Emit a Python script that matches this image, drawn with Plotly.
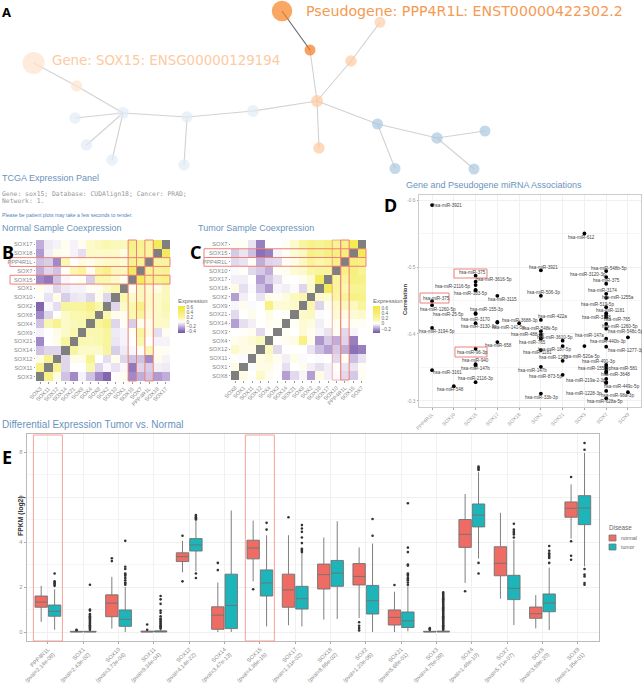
import plotly.graph_objects as go

W, H = 642, 684
FONT = "Liberation Sans"

# ---------- Panel A data ----------
node_x = [282, 310, 380, 351, 317, 319, 377.5, 437, 485, 395, 474, 253, 187, 184, 123, 75, 86.5, 112, 76.6, 33.6]
node_y = [11, 50, 22.3, 61, 101, 148, 124, 138, 131, 168.5, 169, 111, 117, 165, 113, 118, 145, 160, 86, 63]
node_size = [20.5, 11, 11, 11.5, 12, 11.5, 11, 11.5, 11, 11, 11, 12, 11.5, 11.5, 12, 11.5, 11.5, 11.5, 11.5, 22]
node_color = ["#f68121", "#f47b20", "#fdcfa8", "#fdc9a0", "#fdc9a0", "#fdc9a0", "#a9c8e0", "#a9c8e0", "#a9c8e0",
              "#a9c8e0", "#a9c8e0", "#e2ebf5", "#e2ebf5", "#e2ebf5", "#e2ebf5", "#e2ebf5", "#e2ebf5", "#e2ebf5",
              "#fde6cf", "#fde3cc"]
edges = [(19, 18), (18, 14), (14, 15), (14, 16), (14, 17), (14, 12), (12, 13), (12, 11), (11, 4), (4, 1),
         (4, 3), (3, 2), (4, 5), (4, 6), (6, 7), (6, 9), (7, 8), (7, 10)]
dark_edge = (1, 0)

# ---------- Panel B data ----------
b_cats = ["SOX3", "SOX11", "SOX12", "SOX14", "SOX21", "SOX9", "SOX4", "SOX8", "SOX2", "SOX10", "SOX1", "SOX15",
          "SOX7", "PPP4R1L", "SOX18", "SOX17"]
N = None
b_rows_bottom_up = [
    [N, .3, .05, -.15, -.3, -.03, -.15, -.3, -.4, .01, .03, -.3, -.2, -.15, -.25, -.2],
    [.3, N, .25, -.1, 0, 0, .15, -.1, -.02, -.07, -.02, -.35, -.1, -.12, -.04, -.05],
    [.05, .25, N, -.1, .04, .05, .25, 0, -.08, .04, -.1, -.15, -.15, -.3, .04, -.03],
    [-.15, -.1, -.1, N, .2, .1, .1, .1, .2, -.12, -.05, -.02, .02, .15, .02, .03],
    [-.3, 0, .04, .2, N, .15, .12, .15, .2, -.06, -.03, 0, .15, 0, -.03, -.03],
    [-.03, 0, .05, .1, .15, N, .15, .15, .2, -.05, -.03, .02, .2, .06, -.08, .03],
    [-.15, .15, .25, .1, .12, .15, N, .2, .3, -.1, .02, -.12, .03, .04, .1, .1],
    [-.3, -.1, 0, .1, .15, .15, .2, N, .15, .04, .03, .15, .2, .08, .1, .12],
    [-.4, -.02, -.08, .2, .2, .2, .3, .15, N, -.1, .1, .15, .3, .1, .1, .15],
    [.01, -.07, .04, -.12, -.06, -.05, -.1, .04, -.1, N, .15, .1, .12, .1, .1, .12],
    [.03, -.02, -.1, -.05, -.03, -.03, .02, .03, .1, .15, N, .03, .12, .08, .05, .12],
    [-.3, -.35, -.15, -.02, 0, .02, -.12, .15, .15, .1, .03, N, .5, .25, .25, .3],
    [-.2, -.1, -.15, .02, .15, .2, .03, .2, .3, .12, .12, .5, N, .25, .22, .25],
    [-.15, -.12, -.3, .15, 0, .06, .04, .08, .1, .1, .08, .25, .25, N, .2, .2],
    [-.25, -.04, .04, .02, -.03, -.08, .1, .1, .1, .1, .05, .25, .22, .2, N, .5],
    [-.2, -.05, -.03, .03, -.03, .03, .1, .12, .15, .12, .12, .3, .25, .2, .5, N],
]

# ---------- Panel C data ----------
c_cats = ["SOX8", "SOX1", "SOX11", "SOX12", "SOX4", "SOX3", "SOX14", "SOX21", "SOX9", "SOX2", "SOX18", "SOX17",
          "SOX10", "PPP4R1L", "SOX15", "SOX7"]
c_rows_bottom_up = [
    [N, .05, .01, .1, .03, 0, -.18, -.07, -.02, -.18, .05, -.03, -.01, -.07, -.1, .02],
    [.05, N, -.01, .05, .05, .01, -.06, 0, .03, -.03, -.06, -.03, .01, -.05, -.05, .02],
    [.01, -.01, N, .05, .08, .03, -.03, .04, -.01, 0, -.01, 0, -.07, .02, -.12, -.05],
    [.1, .05, .05, N, .12, -.07, 0, 0, 0, -.05, -.12, -.18, -.1, -.15, -.28, -.25],
    [.03, .05, .08, .12, N, .01, .03, .05, .3, .04, -.2, -.1, -.15, -.08, -.25, 0],
    [0, .01, .03, -.07, .01, N, .02, 0, .08, .03, -.02, -.05, .02, -.07, -.02, 0],
    [-.18, -.06, -.03, 0, .03, .02, N, .02, .08, .06, -.03, .01, .03, .02, .02, .02],
    [-.07, 0, .04, 0, .05, 0, .02, N, .1, .12, -.01, 0, .08, .05, .08, .1],
    [-.02, .03, -.01, 0, .3, .08, .08, .1, N, .15, -.08, .03, .1, .12, .12, .2],
    [-.18, -.03, 0, -.05, .04, .03, .06, .12, .15, N, .1, .08, .18, .22, .3, .28],
    [.05, -.06, -.01, -.12, -.2, -.02, -.03, -.01, -.08, .1, N, .5, .2, .15, .25, .25],
    [-.03, -.03, 0, -.18, -.1, -.05, .01, 0, .03, .08, .5, N, .2, .2, .32, .3],
    [-.01, .01, -.07, -.1, -.15, .02, .03, .08, .1, .18, .2, .2, N, .3, .33, .25],
    [-.07, -.05, .02, -.15, -.08, -.07, .02, .05, .12, .22, .15, .2, .3, N, .35, .3],
    [-.1, -.05, -.12, -.28, -.25, -.02, .02, .08, .12, .3, .25, .32, .33, .35, N, .55],
    [.02, .02, -.05, -.25, 0, 0, .02, .1, .2, .28, .25, .3, .25, .3, .55, N],
]

# ---------- Panel D data ----------
d_cats = ["PPP4R1L", "SOX10", "SOX15", "SOX17", "SOX18", "SOX2", "SOX21", "SOX3", "SOX7", "SOX9"]
mir_cat = [0, 0, 0, 0, 0, 1,
           2, 2, 2, 2, 2, 2, 2, 2, 2, 2, 2, 2,
           3, 3, 3, 3, 4,
           5, 5, 5, 5, 5, 5, 5, 5, 5, 5,
           6, 6, 6, 6, 7, 7,
           8, 8, 8, 8, 8, 8, 8, 8, 8, 8, 8, 8, 8, 8, 8, 8, 8, 8, 8, 8, 8, 8, 8,
           9, 9]
mir_corr = [-.5925, -.449, -.443, -.409, -.346, -.322,
            -.487, -.478, -.473, -.466, -.465, -.431, -.43, -.416, -.378, -.355, -.353, -.328,
            -.457, -.418, -.417, -.388, -.416,
            -.495, -.457, -.421, -.404, -.399, -.394, -.393, -.376, -.351, -.311,
            -.39, -.382, -.36, -.339, -.55, -.382,
            -.494, -.485, -.475, -.46, -.454, -.44, -.431, -.428, -.425, -.415, -.408, -.393, -.381, -.354, -.351,
            -.348, -.344, -.342, -.333, -.328, -.327, -.315, -.304,
            -.395, -.313]
mir_name = ["3921", "375", "1260-5p", "3194-5p", "3161", "548",
            "375", "3616-5p", "", "2116-5p", "183-5p", "155-3p", "25-5p", "3130-3p", "96-3p", "940", "147b", "2116-3p",
            "3115", "3170", "141-5p", "658", "3688-3p",
            "3921", "506-3p", "422a", "548k-5p", "488-3p", "3610-5p", "765", "1181", "147b", "33b-3p",
            "147a", "187-5p", "1293", "873-5p", "612", "520a-5p",
            "548b-5p", "3120-3p", "375", "3174", "1255a", "519-5p", "1181", "3188", "765", "1260-5p", "548c-5p",
            "440b-3p", "1277-3p", "491-3p", "155-3p", "581", "", "3648", "219a-2-3p", "", "449c-5p", "1228-3p", "628a-5p",
            "", "98a-3p"]
label_dx = [15, 4, 6, 5, 15, -3,
            -3, 18, 0, -23, -5, 11, -27, 3, -3, 0, 0, 0,
            5, -22, 11, 1, 1,
            3, 3, 12, -1, -13, 14, -8, -3, -8, 1,
            27, -8, -9, -17, -3, -2,
            3, -18, 0, -4, 12, -9, 4, -10, 11, 14, 20, 2, 20, -8, -12, 18, 0, 9, -20, 0, 16, -22, -1,
            0, -10]
label_dy = [0, -3, 4, 3.5, 2, 3,
            -3, -2, 0, -3, 3.5, -4, .7, 3.5, 3.5, -4, 3.5, -3.5,
            3.5, -2, 4.5, 3.5, -3,
            -3, -3, -3, -3, 0, -1, 3.5, 2, 3.5, 3.5,
            -5, 3.5, -3, 1.5, 3.5, 10,
            -3, -3, -3, -3, 0, -3, -2.5, 2, 2, 3, 3, 3, 3.5, -3, 1.5, 0, 0, 2, 2, 0, 3.5, 3, 3,
            0, 3]

# ---------- Panel E data ----------
e_genes = ["PPP4R1L", "SOX1", "SOX10", "SOX11", "SOX12", "SOX14", "SOX15", "SOX17", "SOX18", "SOX2", "SOX21", "SOX3",
           "SOX4", "SOX7", "SOX8", "SOX9"]
e_pvals = ["2.14e-08", "2.43e-02", "3.73e-04", "9.34e-04", "4.14e-22", "3.47e-13", "4.36e-15", "1.31e-02", "8.86e-02",
           "1.20e-06", "5.68e-01", "4.75e-09", "1.48e-10", "5.71e-07", "3.59e-20", "1.35e-01"]
n_low = [.45, 0, .15, 0, 2.65, 0, 2.25, .3, .55, .62, 0, 0, 2.18, 1.48, .16, 4.15]
n_q1 = [1.1, 0, .68, 0, 3.13, .12, 3.25, 1.1, 1.91, 2.09, .31, 0, 3.76, 2.5, .61, 5.1]
n_med = [1.33, .01, 1.28, .01, 3.35, .75, 3.73, 1.87, 2.55, 2.47, .65, .01, 4.34, 3.05, .81, 5.5]
n_q3 = [1.6, .03, 1.65, .04, 3.52, 1.12, 4.08, 2.57, 3.02, 3.04, .98, .03, 5.0, 3.79, 1.11, 5.78]
n_up = [2.05, .05, 2.45, .07, 4.05, 2.2, 4.95, 4.3, 4.2, 3.76, 1.79, .06, 6.13, 5.3, 1.64, 6.56]
t_low = [.1, 0, 0, 0, 2.7, 0, .25, .25, .58, 0, .03, 0, 3.26, .31, .09, 2.92]
t_q1 = [.7, 0, .25, 0, 3.6, .15, 1.6, 1.02, 2.03, .8, .2, 0, 4.67, 1.44, .9, 4.77]
t_med = [.92, .01, .56, .02, 3.87, 1.18, 2.18, 1.48, 2.62, 1.39, .5, .02, 5.2, 1.94, 1.29, 5.51]
t_q3 = [1.2, .03, .98, .05, 4.15, 2.57, 2.76, 2.03, 3.18, 2.07, .89, .04, 5.69, 2.52, 1.69, 6.06]
t_up = [1.9, .07, 2.0, .1, 4.95, 5.4, 4.3, 3.5, 4.92, 3.93, 2.03, .08, 7.1, 4.09, 2.86, 7.96]
n_out = [[], [.08, .1], [3.15, 3.28], [.1, .33], [2.25, 4.28], [2.75, 3.07], [1.9], [5.1], [], [.07, .18, .28, .43],
         [2.09], [.1, .13, .17], [1.81], [], [], [3.21, 3.39, 4.03, 6.89]]
t_out = [[2.05, 2.1, 2.15, 2.2, 2.25, 2.6],
         [.1, .15, .2, .25, .3, .35, .4, .45, .5, .55, .6, .65, .7, .75, .8, .95, 1.0, 2.1],
         [2.1, 2.15, 2.2, 2.3, 2.4, 2.5, 2.55, 2.6, 2.8, 2.9, 4.05],
         [.15, .2, .25, .3, .35, .4, .45, .5, .55, .6, .7, .85, .95, 1.25, 1.45, 1.6],
         [2.4, 2.6, 5.0, 5.05, 5.1, 5.15, 5.2], [], [4.55, 4.85],
         [3.55, 3.6, 3.65, 3.7, 3.95, 4.2, 4.45, 4.6, 4.75], [], [4.28, 5.02],
         [2.1, 2.2, 2.3, 2.35, 2.4, 2.5, 2.55, 2.6, 2.95, 3.0, 3.55, 3.75, 5.72],
         [.1, .15, .2, .25, .3, .35, .4, .45, .5, .55, .6, .65, .7, .75, .8, .85, .9, .95, 1.0, 1.05, 1.1, 1.15, 1.2,
          1.25, 1.3, 1.35, 1.4, 1.45, 1.5, 1.55, 1.6, 1.65, 1.7, 1.76],
         [3.07, 2.6, 7.2, 7.25, 7.3, 7.35], [4.2, 4.33, 4.4, 4.47, 4.55, 4.81],
         [3.07, 3.29, 3.36, 3.43, 3.5, 3.61, 3.82], [2.1, 2.18, 2.47, 2.55, 2.8, 8.1, 8.4]]
legend_names = ["normal", "tumor"]
legend_cols = ["#ee6c63", "#1db5ba"]

# ---------- Layout helpers ----------
BLUE = "#6a93bd"
RED = "#f08078"


def fx(p):
    return p / W


def fy(p):
    return 1 - p / H


def dx(a, b):
    return [a / W, b / W]


def dy(top, bottom):
    return [1 - bottom / H, 1 - top / H]


fig = go.Figure()
layout = dict(width=W, height=H, margin=dict(l=0, r=0, t=0, b=0, autoexpand=False), paper_bgcolor="white",
              plot_bgcolor="white", font=dict(family=FONT, color="#777"), showlegend=False)
annots, shapes = [], []


def text(x, y, s, size, color, family=FONT, bold=False):
    annots.append(dict(x=fx(x), y=fy(y), xref="paper", yref="paper", xanchor="left", yanchor="middle",
                       text=f"<b>{s}</b>" if bold else s, xshift=-1,
                       showarrow=False, font=dict(size=size, color=color, family=family)))


def rect(x0, y0, x1, y1, color=RED, width=1, opacity=1):
    shapes.append(dict(type="rect", xref="paper", yref="paper", x0=fx(x0), x1=fx(x1), y0=fy(y1), y1=fy(y0),
                       line=dict(color=color, width=width), opacity=opacity, layer="above"))


# ---------- Panel A ----------
layout["xaxis"] = dict(domain=dx(0, W), range=[0, W], visible=False, fixedrange=True)
layout["yaxis"] = dict(domain=dy(0, 215), range=[215, 0], visible=False, fixedrange=True)
ex, ey = [], []
for a, b in edges:
    ex += [node_x[a], node_x[b], None]
    ey += [node_y[a], node_y[b], None]
fig.add_trace(go.Scatter(x=ex, y=ey, mode="lines", line=dict(color="#d2d2d2", width=1.1), hoverinfo="skip",
                         xaxis="x", yaxis="y"))
fig.add_trace(go.Scatter(x=[node_x[dark_edge[0]], node_x[dark_edge[1]]], y=[node_y[dark_edge[0]], node_y[dark_edge[1]]],
                         mode="lines", line=dict(color="#666", width=1.1), xaxis="x", yaxis="y"))
fig.add_trace(go.Scatter(x=node_x, y=node_y, mode="markers",
                         marker=dict(size=node_size, color=node_color, line=dict(width=0)),
                         xaxis="x", yaxis="y"))
text(305, 11, "Pseudogene: PPP4R1L: ENST00000422302.2", 14.2, "#f59a52", "DejaVu Sans")
text(50.5, 61, "Gene: SOX15: ENSG00000129194", 13.4, "#fdcaa2", "DejaVu Sans")
text(1, 178, "TCGA Expression Panel", 9, BLUE)
text(404.5, 185, "Gene and Pseudogene miRNA Associations", 9, BLUE)
text(1, 194, "Gene: sox15; Database: CUDAlign18; Cancer: PRAD;", 6.4, "#999", "DejaVu Sans Mono")
text(1, 201, "Network: 1.", 6.4, "#999", "DejaVu Sans Mono")
text(1, 215, "Please be patient plots may take a few seconds to render.", 5.1, "#4a84bd")
text(1, 228, "Normal Sample Coexpression", 9, BLUE)
text(197, 228, "Tumor Sample Coexpression", 9, BLUE)
text(1, 424, "Differential Expression Tumor vs. Normal", 10, BLUE)
for x, y, s, size in [(1, 12, "A", 13), (1, 252, "B", 18), (189, 252, "C", 18), (383, 205, "D", 18), (1, 457, "E", 18)]:
    text(x, y, s, size, "black", "Noto Sans", True)


# ---------- Panels B, C ----------
def heat_panel(idx, cats, rows, left, right, top, bottom, zmin, zmax, cb_left, cb_top, cb_bottom, ticks):
    xn, yn = f"x{idx}", f"y{idx}"
    layout[f"xaxis{idx}"] = dict(domain=dx(left, right), anchor=yn, tickangle=-45, tickfont=dict(size=5.5, color="#888"),
                                 type="category", showgrid=False, zeroline=False, ticks="outside", ticklen=1.5,
                                 tickcolor="#999", tickwidth=.6, range=[-.5, 15.5], tickmode="array",
                                 tickvals=cats, categoryorder="array", categoryarray=cats)
    layout[f"yaxis{idx}"] = dict(domain=dy(top, bottom), anchor=xn, tickfont=dict(size=5.7, color="#888"), type="category",
                                 showgrid=False, zeroline=False, ticks="outside", ticklen=1.5, tickcolor="#999",
                                 tickwidth=.6, range=[-.5, 15.5], tickmode="array", tickvals=cats,
                                 categoryorder="array", categoryarray=cats)
    z0 = -zmin / (zmax - zmin)
    fig.add_trace(go.Heatmap(z=rows, x=cats, y=cats, xaxis=xn, yaxis=yn, zmin=zmin, zmax=zmax,
                             colorscale=[[0, "#6f52a3"], [z0 * .5, "#b6a1d3"], [z0, "#ffffff"],
                                         [z0 + (1 - z0) * .25, "#faf6a6"], [z0 + (1 - z0) * .55, "#f6ee78"], [1, "#f2e73c"]],
                             hoverongaps=False,
                             colorbar=dict(x=fx(cb_left), xanchor="left", xpad=0, ypad=0, y=fy(cb_bottom), yanchor="bottom",
                                           len=cb_bottom - cb_top, lenmode="pixels", thickness=6.5, thicknessmode="pixels",
                                           outlinewidth=0, ticks="", tickvals=ticks, tickfont=dict(size=4.8, color="#666"),
                                           title=dict(text="Expression", side="top", font=dict(size=6, color="#666")))))
    diag = [[1 if i == j else None for j in range(16)] for i in range(16)]
    fig.add_trace(go.Heatmap(z=diag, x=cats, y=cats, xaxis=xn, yaxis=yn, showscale=False, hoverongaps=False,
                             colorscale=[[0, "#7f7f7f"], [1, "#7f7f7f"]]))


heat_panel(2, b_cats, b_rows_bottom_up, 36, 170, 240, 381, -.46, .66, 178, 295, 333, [-.4, -.2, 0, .2, .4, .6])
heat_panel(3, c_cats, c_rows_bottom_up, 231, 366, 240, 380, -.35, .67, 373, 295, 333, [-.2, 0, .2, .4, .6])


def cat_rows(cats, name, left, right, top, bottom, label_left, col=True, row=True, col_op=1):
    i = cats.index(name)
    cw, ch = (right - left) / 16, (bottom - top) / 16
    if row:
        y0 = bottom - (i + 1) * ch
        rect(label_left, y0, right, y0 + ch)
    if col:
        x0 = left + i * cw
        rect(x0, top, x0 + cw, bottom, opacity=col_op)


cat_rows(b_cats, "PPP4R1L", 36, 170, 240, 381, 10)
cat_rows(b_cats, "SOX15", 36, 170, 240, 381, 10)
cat_rows(c_cats, "SOX10", 231, 366, 240, 380, 204, row=False, col_op=.6)
cat_rows(c_cats, "PPP4R1L", 231, 366, 240, 380, 204)
cat_rows(c_cats, "SOX15", 231, 366, 240, 380, 204, col=False)

# ---------- Panel D ----------
layout["xaxis4"] = dict(domain=dx(419, 641), anchor="y4", range=[-.6, 9.6], tickmode="array", tickvals=list(range(10)),
                        ticktext=d_cats, tickangle=-45, tickfont=dict(size=5, color="#999"), showgrid=True,
                        gridcolor="#f0f0f0", gridwidth=.6, zeroline=False, showline=True, mirror=True, linecolor="#ccc",
                        linewidth=1, ticks="outside", ticklen=1.5, tickcolor="#aaa", tickwidth=.5)
layout["yaxis4"] = dict(domain=dy(195, 407), anchor="x4", range=[-.291, -.6075], tickvals=[-.6, -.5, -.4, -.3],
                        ticktext=["-0.6", "-0.5", "-0.4", "-0.3"], tickfont=dict(size=4.8, color="#999"), showgrid=True,
                        gridcolor="#f0f0f0", gridwidth=.6, zeroline=False, ticks="outside", ticklen=1.5, tickcolor="#aaa",
                        tickwidth=.5, showline=True, mirror=True, linecolor="#ccc", linewidth=1,
                        minor=dict(dtick=.05, showgrid=True, gridcolor="#f6f6f6", gridwidth=.5))
fig.add_trace(go.Scatter(x=mir_cat, y=mir_corr, mode="markers", marker=dict(size=3.8, color="black"),
                         xaxis="x4", yaxis="y4"))
for c, v, n, ox, oy in zip(mir_cat, mir_corr, mir_name, label_dx, label_dy):
    if n:
        annots.append(dict(x=c, y=v, xref="x4", yref="y4", text="hsa-miR-" + n, showarrow=False, xshift=ox, yshift=-oy,
                           xanchor="center", yanchor="middle", font=dict(size=4.6, color="#444")))
annots.append(dict(x=fx(405), y=fy(300), xref="paper", yref="paper", text="<b>Correlation</b>", textangle=-90,
                   showarrow=False, font=dict(size=5.8, color="#333")))
rect(454, 269, 487, 278)
rect(420, 293, 449, 303)
rect(455, 347, 487, 357)

# ---------- Panel E ----------
layout["xaxis5"] = dict(domain=dx(26.7, 599), anchor="y5", range=[-.6, 15.6], tickmode="array",
                        tickvals=list(range(16)),
                        ticktext=[f"{g}<br>(pval={p})" for g, p in zip(e_genes, e_pvals)], tickangle=-45,
                        tickfont=dict(size=5.6, color="#888"), showgrid=True, gridcolor="#f0f0f0", gridwidth=.7,
                        zeroline=False, showline=True, mirror=True, linecolor="#bbb", linewidth=1, ticks="outside",
                        ticklen=2, tickcolor="#aaa", tickwidth=.6)
layout["yaxis5"] = dict(domain=dy(434, 641), anchor="x5", range=[-.4, 8.8], tickvals=[0, 2, 4, 6, 8],
                        tickfont=dict(size=5.8, color="#999"), showgrid=True, gridcolor="#f0f0f0", gridwidth=.7,
                        zeroline=False, ticks="outside", ticklen=2, tickcolor="#aaa", tickwidth=.6, showline=True,
                        mirror=True, linecolor="#bbb", linewidth=1,
                        minor=dict(dtick=1, showgrid=True, gridcolor="#f5f5f5", gridwidth=.5))
OFF = .19
for name, col, sign, low, q1, med, q3, up, out in [
    (legend_names[0], legend_cols[0], -1, n_low, n_q1, n_med, n_q3, n_up, n_out),
    (legend_names[1], legend_cols[1], 1, t_low, t_q1, t_med, t_q3, t_up, t_out),
]:
    xs = [i + sign * OFF for i in range(16)]
    fig.add_trace(go.Box(x=xs, lowerfence=low, q1=q1, median=med, q3=q3, upperfence=up, name=name, fillcolor=col,
                         line=dict(color="#707070", width=.9), width=.35, whiskerwidth=0, boxpoints=False,
                         xaxis="x5", yaxis="y5"))
    ox = [i + sign * OFF for i, vals in enumerate(out) for _ in vals]
    oy = [v for vals in out for v in vals]
    fig.add_trace(go.Scatter(x=ox, y=oy, mode="markers", marker=dict(size=2.6, color="#333"),
                             xaxis="x5", yaxis="y5"))
annots.append(dict(x=fx(15), y=fy(538), xref="paper", yref="paper", text="<b>FPKM (log2)</b>", textangle=-90,
                   showarrow=False, font=dict(size=6.8, color="#333")))
for g in ("PPP4R1L", "SOX15"):
    cx = 26.7 + (e_genes.index(g) + .6) * (572.3 / 16.2)
    rect(cx - 14.5, 435, cx + 14.5, 641, color="#f8a09a", width=1)

# Legend, drawn by hand so the keys keep the reference's small size
text(608, 527, "Disease", 6.3, "#666")
for i, (n, c) in enumerate(zip(legend_names, legend_cols)):
    top = 535 + i * 9
    rect(609, top, 616, top + 6, color="#777", width=.8)
    shapes[-1]["fillcolor"] = c
    text(620, top + 3, n, 5.2, "#666")

layout["annotations"] = annots
layout["shapes"] = shapes
fig.update_layout(**layout)
fig.write_html("out.html", config=dict(displayModeBar=False),
               post_script="document.body.style.margin='0';document.documentElement.style.overflow='hidden';")
